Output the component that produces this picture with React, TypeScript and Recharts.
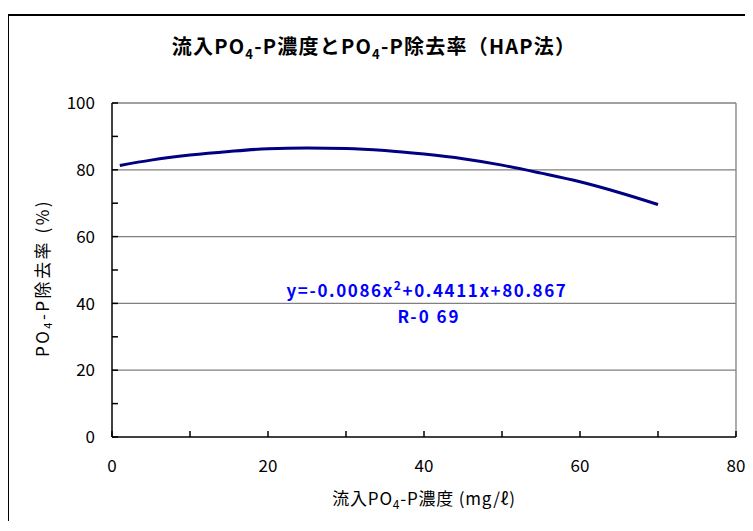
import { LineChart, Line, XAxis, YAxis, ReferenceLine, Customized } from 'recharts';

const concentration = [1, 5, 10, 15, 20, 25, 30, 35, 40, 45, 50, 55, 60, 65, 70];
const removalRate = [81.3, 82.9, 84.4, 85.5, 86.3, 86.5, 86.4, 85.8, 84.7, 83.3, 81.4, 79.0, 76.4, 73.2, 69.6];
const xTicks = [0, 10, 20, 30, 40, 50, 60, 70, 80];
const yTicks = [0, 10, 20, 30, 40, 50, 60, 70, 80, 90, 100];
const gridValues = [20, 40, 60, 80, 100];

const data = concentration.map((x, i) => ({ x, y: removalRate[i] }));

const FONT = '"Noto Sans CJK JP", "Noto Sans", sans-serif';

const YTick = (props: any) => {
  const { x, y, payload } = props;
  if (payload.value % 20 !== 0) return <g />;
  return (
    <text x={x} y={y} dy="0.36em" textAnchor="end" fontSize={17} fontFamily={FONT} fill="#000">
      {payload.value}
    </text>
  );
};

const XTick = (props: any) => {
  const { x, y, payload } = props;
  if (payload.value % 20 !== 0) return <g />;
  return (
    <text x={x} y={y} dy="0.75em" textAnchor="middle" fontSize={17} fontFamily={FONT} fill="#000">
      {payload.value}
    </text>
  );
};

const Texts = () => (
  <g fontFamily={FONT}>
    <text x={365} y={31} dy="0.35em" textAnchor="middle" fontSize={20} fontWeight="bold" fill="#000" letterSpacing={1.2}>
      流入PO<tspan fontSize={13} dy={5}>4</tspan>
      <tspan dy={-5}>-P濃度とPO</tspan>
      <tspan fontSize={13} dy={5}>4</tspan>
      <tspan dy={-5}>-P除去率（HAP法）</tspan>
    </text>
    <text
      x={34}
      y={262}
      dy="0.35em"
      textAnchor="middle"
      fontSize={17}
      fill="#000"
      letterSpacing={2.5}
      transform="rotate(-90 34 262)"
    >
      PO<tspan fontSize={11} dy={3}>4</tspan>
      <tspan dy={-3}>-P除去率 (%)</tspan>
    </text>
    <text x={415} y={483} dy="0.35em" textAnchor="middle" fontSize={17} fill="#000" letterSpacing={0.8}>
      流入PO<tspan fontSize={12} dy={4}>4</tspan>
      <tspan dy={-4}>-P濃度 (mg/ℓ)</tspan>
    </text>
    <text x={418} y={275} dy="0.35em" textAnchor="middle" fontSize={17} fontWeight="bold" fill="#0000ff" letterSpacing={1.6}>
      y=-0.0086x<tspan fontSize={12} dy={-7}>2</tspan>
      <tspan dy={7}>+0.4411x+80.867</tspan>
    </text>
    <text x={420} y={301} dy="0.35em" textAnchor="middle" fontSize={17} fontWeight="bold" fill="#0000ff" letterSpacing={2}>
      R-0 69
    </text>
  </g>
);

export default function App() {
  return (
    <div
      style={{
        marginTop: 6,
        marginLeft: -1,
        borderLeft: '2px solid #000',
        borderTop: '2px solid #000',
        width: 736,
        background: '#fff',
      }}
    >
      <LineChart width={736} height={505} data={data} margin={{ top: 87, right: 9, left: 0, bottom: 0 }}>
        {gridValues.map((v) => (
          <ReferenceLine key={v} y={v} stroke="#808080" strokeWidth={1.3} />
        ))}
        <ReferenceLine x={80} stroke="#808080" strokeWidth={1.3} />
        <XAxis
          type="number"
          dataKey="x"
          domain={[0, 80]}
          ticks={xTicks}
          interval={0}
          height={84}
          stroke="#000"
          strokeWidth={1.5}
          tickSize={-6}
          tickMargin={28}
          tick={XTick}
        />
        <YAxis
          type="number"
          domain={[0, 100]}
          ticks={yTicks}
          interval={0}
          width={103}
          stroke="#000"
          strokeWidth={1.5}
          tickSize={-6}
          tickMargin={23}
          tick={YTick}
        />
        <Line
          type="monotone"
          dataKey="y"
          stroke="#000080"
          strokeWidth={3}
          dot={false}
          isAnimationActive={false}
        />
        <Customized component={Texts} />
      </LineChart>
    </div>
  );
}
